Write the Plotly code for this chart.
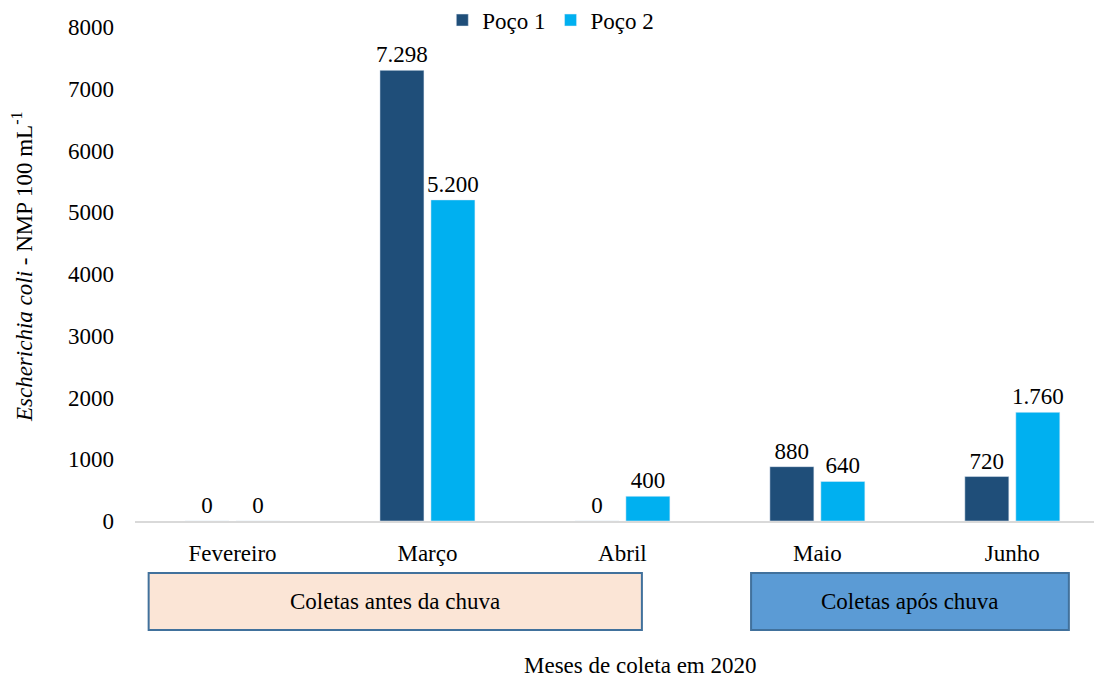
import plotly.graph_objects as go

# data
meses = ["Fevereiro", "Março", "Abril", "Maio", "Junho"]
poco1 = [0, 7298, 0, 880, 720]
poco2 = [0, 5200, 400, 640, 1760]
y_ticks = [0, 1000, 2000, 3000, 4000, 5000, 6000, 7000, 8000]


def fmt_pt(v):
    # Portuguese thousands separator
    return f"{v:,}".replace(",", ".")


FONT = "Liberation Serif"
font_size = 23

fig = go.Figure()
fig.add_trace(go.Bar(
    x=meses, y=poco1, name="Poço 1",
    marker=dict(color="#1F4E79"),
    text=[fmt_pt(v) for v in poco1],
    textposition="outside", cliponaxis=False,
    textfont=dict(family=FONT, size=font_size, color="black"),
))
fig.add_trace(go.Bar(
    x=meses, y=poco2, name="Poço 2",
    marker=dict(color="#00B0F0"),
    text=[fmt_pt(v) for v in poco2],
    textposition="outside", cliponaxis=False,
    textfont=dict(family=FONT, size=font_size, color="black"),
))

# category boxes under the axis
boxes = [
    dict(x0=-0.43, x1=2.10, fill="#FBE5D6", label="Coletas antes da chuva"),
    dict(x0=2.66, x1=4.29, fill="#5B9BD5", label="Coletas após chuva"),
]
for b in boxes:
    fig.add_shape(
        type="rect", xref="x", yref="paper",
        x0=b["x0"], x1=b["x1"], y0=-0.2206, y1=-0.1053,
        fillcolor=b["fill"], line=dict(color="#41719C", width=2),
        layer="above",
    )
    fig.add_annotation(
        xref="x", yref="paper", x=(b["x0"] + b["x1"]) / 2, y=-0.163,
        xanchor="center", yanchor="middle",
        text=b["label"], showarrow=False,
        font=dict(family=FONT, size=font_size, color="black"),
    )

fig.add_annotation(
    xref="paper", yref="paper", x=0.522, y=-0.2915,
    xanchor="center", yanchor="middle",
    text="Meses de coleta em 2020", showarrow=False,
    font=dict(family=FONT, size=font_size, color="black"),
)
fig.add_annotation(
    xref="paper", yref="paper", x=-0.1169, y=0.516, textangle=-90,
    xanchor="center", yanchor="middle",
    text="<i>Escherichia coli</i> - NMP 100 mL<sup>-1</sup>", showarrow=False,
    font=dict(family=FONT, size=font_size, color="black"),
)

# page body has an 8px default margin, so the figure is 8px smaller
fig.update_layout(
    width=1094, height=672,
    margin=dict(l=127, r=0, t=19, b=159, autoexpand=False),
    plot_bgcolor="white", paper_bgcolor="white",
    font=dict(family=FONT, size=font_size, color="black"),
    barmode="group", bargap=0.477, bargroupgap=0.137,
    uniformtext=dict(minsize=font_size, mode="show"),
    showlegend=True,
    legend=dict(
        orientation="h", x=0.43, y=1.014, xanchor="center", yanchor="middle",
        font=dict(family=FONT, size=font_size), itemwidth=30,
        bgcolor="rgba(0,0,0,0)",
    ),
    xaxis=dict(
        range=[-0.5, 4.46], showgrid=False,
        showline=True, linecolor="#D9D9D9", linewidth=2,
        ticks="", ticklabelstandoff=10,
        tickfont=dict(family=FONT, size=font_size),
    ),
    yaxis=dict(
        range=[0, 8000], tickvals=y_ticks, showgrid=False, zeroline=False,
        showline=False, ticks="", ticklabelstandoff=20,
        tickfont=dict(family=FONT, size=font_size),
    ),
)

fig.write_html("out.html")
